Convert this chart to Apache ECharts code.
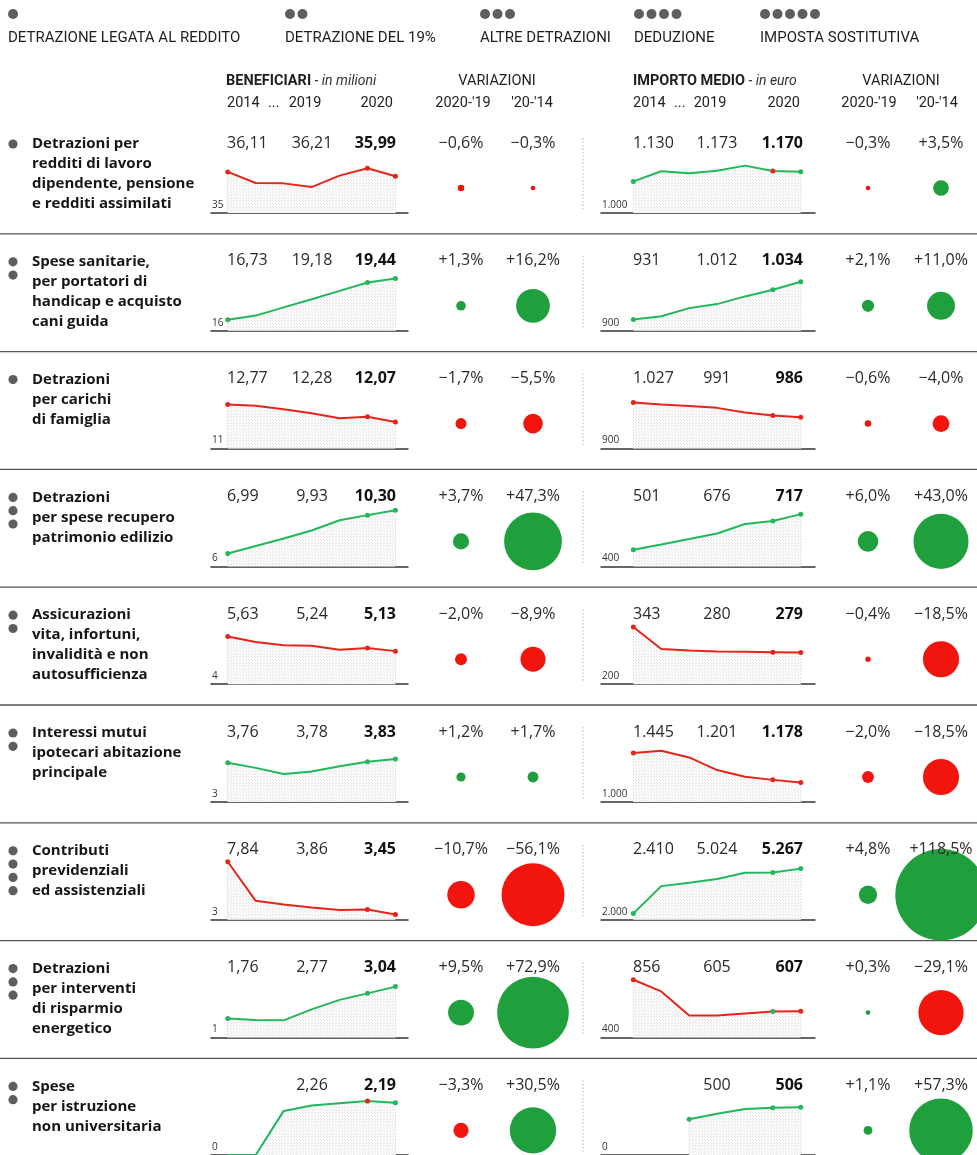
<!DOCTYPE html>
<html>
<head>
<meta charset="utf-8">
<script src="https://cdn.jsdelivr.net/npm/echarts@6/dist/echarts.min.js"></script>
<style>
  html, body { margin: 0; padding: 0; background: #fff; }
  #chart { width: 977px; height: 1155px; }
</style>
</head>
<body>
<div id="chart"></div>
<script>
// ---- Data -------------------------------------------------------------
const years = ['2014', '2015', '2016', '2017', '2018', '2019', '2020'];

const legendTypes = [
  'DETRAZIONE LEGATA AL REDDITO',
  'DETRAZIONE DEL 19%',
  'ALTRE DETRAZIONI',
  'DEDUZIONE',
  'IMPOSTA SOSTITUTIVA'
];

const rowLabels = [
  ['Detrazioni per', 'redditi di lavoro', 'dipendente, pensione', 'e redditi assimilati'],
  ['Spese sanitarie,', 'per portatori di', 'handicap e acquisto', 'cani guida'],
  ['Detrazioni', 'per carichi', 'di famiglia'],
  ['Detrazioni', 'per spese recupero', 'patrimonio edilizio'],
  ['Assicurazioni', 'vita, infortuni,', 'invalidità e non', 'autosufficienza'],
  ['Interessi mutui', 'ipotecari abitazione', 'principale'],
  ['Contributi', 'previdenziali', 'ed assistenziali'],
  ['Detrazioni', 'per interventi', 'di risparmio', 'energetico'],
  ['Spese', 'per istruzione', 'non universitaria']
];

// number of bullets = type of tax relief (see legend)
const rowTypes = [1, 2, 1, 3, 2, 2, 4, 3, 2];

// Beneficiari, in milioni, 2014..2020
const beneficiari = [
  [36.11, 35.81, 35.80, 35.70, 36.01, 36.21, 35.99],
  [16.73, 17.00, 17.54, 18.08, 18.63, 19.18, 19.44],
  [12.77, 12.72, 12.58, 12.42, 12.22, 12.28, 12.07],
  [6.99, 7.57, 8.14, 8.75, 9.54, 9.93, 10.30],
  [5.63, 5.44, 5.33, 5.31, 5.18, 5.24, 5.13],
  [3.76, 3.66, 3.54, 3.59, 3.69, 3.78, 3.83],
  [7.84, 4.58, 4.28, 4.03, 3.82, 3.86, 3.45],
  [1.76, 1.70, 1.69, 2.13, 2.51, 2.77, 3.04],
  [0, 0, 1.85, 2.08, 2.17, 2.26, 2.19]
];

// Importo medio, in euro, 2014..2020
const importo = [
  [1130, 1172, 1164, 1174, 1195, 1173, 1170],
  [931, 940, 962, 973, 994, 1012, 1034],
  [1027, 1021, 1017, 1012, 999, 991, 986],
  [501, 533, 566, 600, 657, 676, 717],
  [343, 288, 284, 282, 281, 280, 279],
  [1445, 1466, 1405, 1290, 1230, 1201, 1178],
  [2410, 4150, 4360, 4610, 5000, 5024, 5267],
  [856, 764, 575, 575, 590, 605, 607],
  [null, null, 378, 438, 488, 500, 506]
];

// Variazioni % : [2020-'19, '20-'14]
const varBeneficiari = [
  [-0.6, -0.3], [1.3, 16.2], [-1.7, -5.5], [3.7, 47.3], [-2.0, -8.9],
  [1.2, 1.7], [-10.7, -56.1], [9.5, 72.9], [-3.3, 30.5]
];
const varImporto = [
  [-0.3, 3.5], [2.1, 11.0], [-0.6, -4.0], [6.0, 43.0], [-0.4, -18.5],
  [-2.0, -18.5], [4.8, 118.5], [0.3, -29.1], [1.1, 57.3]
];

// Baseline tick of each sparkline
const baseBeneficiari = [35, 16, 11, 6, 4, 3, 3, 1, 0];
const baseImporto = [1000, 900, 900, 400, 200, 1000, 2000, 400, 0];

// ---- Layout / scales --------------------------------------------------
const maxBeneficiari = [36.62, 19.95, 13.41, 10.6, 6.05, 4.16, 8.0, 3.4, 2.5];
const maxImporto = [1247, 1064, 1065, 764, 350, 1545, 5830, 873, 632];

const W = 977;
const ROW_H = 117.8;
const rowY = k => 143 + k * ROW_H;     // y of the value labels in each row
const legendX = [8, 285, 480, 634, 760];
const spark = {
  b: { left: 211, width: 197, xmin: -0.6, xmax: 6.45, c1: 227, c2: 312, c3: 396 },
  i: { left: 601, width: 214, xmin: -1.16, xmax: 6.51, c1: 633, c2: 717, c3: 803 }
};
const bubbleCols = { b: [461, 533], i: [868, 941] };

const GREEN_LINE = '#22b75a';
const RED_LINE = '#e4261a';
const GREEN_DOT = '#1fa03d';
const RED_DOT = '#f2150d';
const TXT = '#2a2a2a';

const FONT_VAL = '"Open Sans", "DejaVu Sans", sans-serif';
const FONT_HEAD = 'Roboto, "Liberation Sans", sans-serif';

// ---- Formatting -------------------------------------------------------
const fmtBenef = v => (v == null || v === 0) ? '' : v.toFixed(2).replace('.', ',');
const fmtImporto = v => (v == null || v === 0) ? '' : String(v).replace(/\B(?=(\d{3})+(?!\d))/g, '.');
const fmtPct = v => (v < 0 ? '\u2212' : '+') + Math.abs(v).toFixed(1).replace('.', ',') + '%';

// light stippled fill under the sparklines
function stipple() {
  const c = document.createElement('canvas');
  c.width = 3; c.height = 3;
  const g = c.getContext('2d');
  g.fillStyle = '#fbfbfb';
  g.fillRect(0, 0, 3, 3);
  g.fillStyle = '#e4e4e4';
  g.fillRect(0, 0, 1, 1);
  g.fillRect(2, 2, 1, 1);
  return c;
}
const stippleCanvas = stipple();

function txt(text, x, y, font, fill, align, extra) {
  return Object.assign({
    type: 'text', z: 10, silent: true,
    style: {
      text: text, x: x, y: y, font: font, fill: fill,
      textAlign: align || 'left', textVerticalAlign: 'middle',
      align: align || 'left', verticalAlign: 'middle'
    }
  }, extra || {});
}

// ---- Build option -----------------------------------------------------
const grid = [], xAxis = [], yAxis = [], series = [], graphic = [];

// legend
legendTypes.forEach((name, t) => {
  for (let j = 0; j <= t; j++) {
    graphic.push({ type: 'circle', silent: true, z: 5,
      shape: { cx: legendX[t] + 5 + j * 12.5, cy: 14, r: 5 },
      style: { fill: '#5e5e5e' } });
  }
  graphic.push(txt(name, legendX[t], 38, '15px ' + FONT_HEAD, '#1e1e1e'));
});

// column headers
[['b', 'BENEFICIARI', ' - in milioni', 226, 497],
 ['i', 'IMPORTO MEDIO', ' - in euro', 633, 901]].forEach(([key, bold, ital, x, vx]) => {
  const s = spark[key];
  graphic.push({
    type: 'text', z: 10, silent: true,
    style: {
      text: '{b|' + bold + '}{i|' + ital + '}', x: x, y: 81,
      textVerticalAlign: 'middle', verticalAlign: 'middle',
      rich: {
        b: { fill: '#1e1e1e', fontSize: 14.5, fontWeight: 'bold', fontFamily: 'Roboto' },
        i: { fill: '#333', fontSize: 14, fontStyle: 'italic', fontFamily: 'Roboto' }
      }
    }
  });
  graphic.push(txt('VARIAZIONI', vx, 81, '14.5px ' + FONT_HEAD, '#1e1e1e', 'center'));
  graphic.push(txt(years[0], s.c1, 103, '14.5px ' + FONT_HEAD, '#1e1e1e', 'left'));
  graphic.push(txt('...', s.c1 + 41, 103, '14.5px ' + FONT_HEAD, '#1e1e1e', 'left'));
  graphic.push(txt(years[5], s.c2 - 7, 103, '14.5px ' + FONT_HEAD, '#1e1e1e', 'center'));
  graphic.push(txt(years[6], s.c3 - 3, 103, '14.5px ' + FONT_HEAD, '#1e1e1e', 'right'));
});
graphic.push(txt("2020-'19", 463, 103, '14.5px ' + FONT_HEAD, '#1e1e1e', 'center'));
graphic.push(txt("'20-'14", 532, 103, '14.5px ' + FONT_HEAD, '#1e1e1e', 'center'));
graphic.push(txt("2020-'19", 869, 103, '14.5px ' + FONT_HEAD, '#1e1e1e', 'center'));
graphic.push(txt("'20-'14", 937, 103, '14.5px ' + FONT_HEAD, '#1e1e1e', 'center'));

function addSpark(k, key, vals, base, ymax, vars, fmt) {
  const s = spark[key];
  const vy = rowY(k);
  const gi = grid.length;
  grid.push({ left: s.left, width: s.width, top: vy + 10, height: 60 });
  xAxis.push({ gridIndex: gi, type: 'value', min: s.xmin, max: s.xmax, show: true,
    axisLine: { show: true, onZero: false, lineStyle: { color: '#333', width: 1.5 } },
    axisTick: { show: false }, axisLabel: { show: false }, splitLine: { show: false } });
  yAxis.push({ gridIndex: gi, type: 'value', min: base, max: ymax, show: false,
    splitLine: { show: false } });

  const lineColor = vars[1] < 0 ? RED_LINE : GREEN_LINE;
  const dot19 = vars[0] < 0 ? RED_LINE : GREEN_LINE;
  const first = vals.findIndex(v => v != null);

  const pts = [];
  vals.forEach((v, i) => {
    if (v == null) return;
    const marked = (i === first && v !== base) || i >= 5;
    pts.push({ value: [i, v], symbol: marked ? 'circle' : 'none', symbolSize: 5,
      itemStyle: { color: i === 5 ? dot19 : lineColor } });
  });

  // dotted drop lines from the first, 2019 and 2020 points
  const drops = [];
  [first, 5, 6].forEach(i => {
    if (vals[i] != null && vals[i] !== base) drops.push([i, vals[i], base, i === 5 ? 1 : 0]);
  });
  series.push({
    type: 'custom', xAxisIndex: gi, yAxisIndex: gi, z: 2, silent: true, clip: false,
    data: drops,
    renderItem: (params, api) => {
      const a = api.coord([api.value(0), api.value(1)]);
      const b = api.coord([api.value(0), api.value(2)]);
      return { type: 'line', shape: { x1: a[0], y1: a[1], x2: b[0], y2: b[1] },
        style: { stroke: api.value(3) === 1 ? '#707070' : '#c4c4c4', lineWidth: 1, lineDash: [1.5, 1.5] } };
    }
  });
  series.push({
    type: 'line', xAxisIndex: gi, yAxisIndex: gi, z: 3, silent: true,
    data: pts, showSymbol: true,
    lineStyle: { color: lineColor, width: 2 },
    areaStyle: { color: { image: stippleCanvas, repeat: 'repeat' }, opacity: 1 },
    animation: false
  });

  // value labels: 2014, 2019, 2020
  graphic.push(txt(fmt(vals[0]), s.c1, vy, '16px ' + FONT_VAL, TXT, 'left'));
  graphic.push(txt(fmt(vals[5]), s.c2, vy, '16px ' + FONT_VAL, TXT, 'center'));
  graphic.push(txt(fmt(vals[6]), s.c3, vy, 'bold 16px ' + FONT_VAL, '#111', 'right'));
  // baseline tick
  graphic.push(txt(key === 'b' ? String(base) : (fmtImporto(base) || '0'),
    s.left + 1, vy + 62, '10px ' + FONT_VAL, '#333', 'left'));
  // percentage changes written above the bubbles
  vars.forEach((v, c) => {
    graphic.push(txt(fmtPct(v), bubbleCols[key][c], vy, '16px ' + FONT_VAL, TXT, 'center'));
  });
}

for (let k = 0; k < rowLabels.length; k++) {
  const vy = rowY(k);
  // row separator
  if (k > 0) {
    graphic.push({ type: 'line', silent: true, z: 0,
      shape: { x1: 0, y1: vy - 27, x2: W, y2: vy - 27 },
      style: { stroke: '#555', lineWidth: 1.3 } });
  }
  // dotted divider between the two blocks
  graphic.push({ type: 'line', silent: true, z: 0,
    shape: { x1: 583, y1: vy - 5, x2: 583, y2: vy + 68 },
    style: { stroke: '#b5b5b5', lineWidth: 1, lineDash: [1.5, 2] } });
  // type bullets
  for (let j = 0; j < rowTypes[k]; j++) {
    graphic.push({ type: 'circle', silent: true, z: 5,
      shape: { cx: 13, cy: vy + 1 + j * 13.3, r: 4.6 },
      style: { fill: '#5e5e5e' } });
  }
  // label
  rowLabels[k].forEach((line, i) => {
    graphic.push(txt(line, 32, vy + 1 + i * 20, 'bold 15px ' + FONT_VAL, '#161616', 'left'));
  });

  addSpark(k, 'b', beneficiari[k], baseBeneficiari[k], maxBeneficiari[k], varBeneficiari[k], fmtBenef);
  addSpark(k, 'i', importo[k], baseImporto[k], maxImporto[k], varImporto[k], fmtImporto);
}

// bubbles for the percentage changes (area proportional to the change);
// x = column (0: 2020-'19, 1: '20-'14), y = row index
function addBubbles(key, vars) {
  const cols = bubbleCols[key];
  const gi = grid.length;
  const n = vars.length;
  grid.push({ left: cols[0], width: cols[1] - cols[0], top: rowY(0) + 45, height: ROW_H * (n - 1) });
  xAxis.push({ gridIndex: gi, type: 'value', min: 0, max: 1, show: false });
  yAxis.push({ gridIndex: gi, type: 'value', min: 0, max: n - 1, inverse: true, show: false });
  const data = [];
  vars.forEach((pair, k) => pair.forEach((v, c) => {
    data.push({ value: [c, k, v], symbolSize: 8.4 * Math.sqrt(Math.abs(v)),
      itemStyle: { color: v < 0 ? RED_DOT : GREEN_DOT, opacity: 1 } });
  }));
  series.push({
    type: 'scatter', xAxisIndex: gi, yAxisIndex: gi, z: 4, silent: true, clip: false,
    data: data, animation: false, itemStyle: { opacity: 1 }
  });
}
addBubbles('b', varBeneficiari);
addBubbles('i', varImporto);

const chart = echarts.init(document.getElementById('chart'), null, { renderer: 'canvas' });
chart.setOption({
  animation: false,
  backgroundColor: '#fff',
  grid: grid, xAxis: xAxis, yAxis: yAxis, series: series, graphic: graphic
});
</script>
</body>
</html>
